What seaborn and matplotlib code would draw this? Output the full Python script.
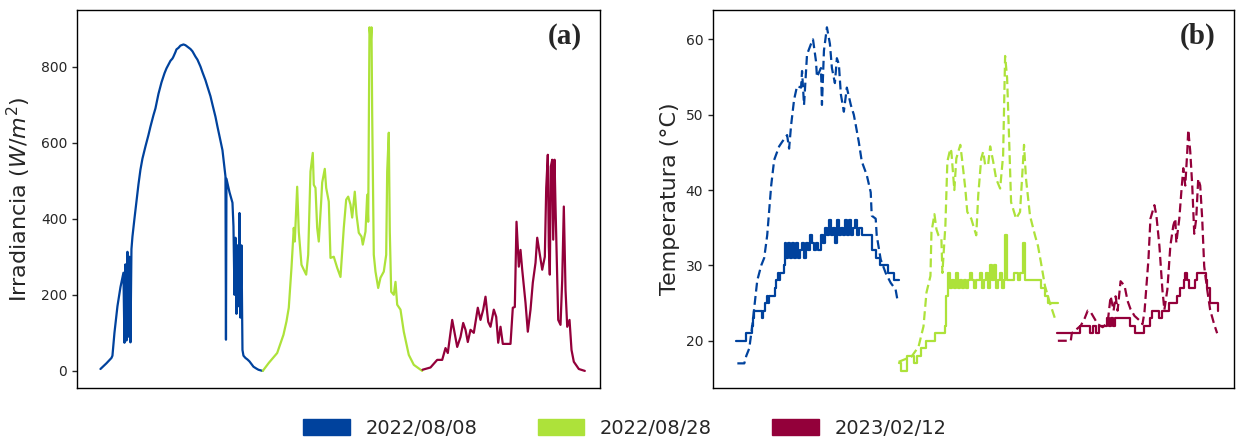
import numpy as np
import pandas as pd
import matplotlib
matplotlib.use("Agg")
import matplotlib.pyplot as plt
from matplotlib.patches import Patch
import seaborn as sns

# ---------------- data ----------------
dias = ["2022/08/08", "2022/08/28", "2023/02/12"]
colores = ["#00429d", "#ade23a", "#93003a"]
ancho_dia = 161  # samples per day on the shared x axis

# Irradiance (W/m2): (position within day, value)
irr_t_1 = [0, 6, 11, 12, 14, 17, 20, 23, 24, 25, 26, 27, 28, 29, 30, 31, 32, 34, 36, 38, 40, 42, 45, 48, 50,
           53, 55, 58, 61, 64, 66, 68, 70, 72, 73, 75, 76, 78, 80, 83, 85, 87, 90, 92, 95, 97, 100, 102, 105,
           107, 110, 112, 115, 117, 120, 122, 125, 125.5, 126, 129, 132, 133, 134, 135, 136, 137, 138, 139,
           140, 141, 142, 143, 145, 147, 149, 151, 153, 156, 158, 162]
irr_v_1 = [5, 20, 34, 40, 100, 170, 220, 258, 74, 280, 80, 313, 90, 300, 75, 320, 353, 400, 445, 490, 529,
           558, 590, 620, 642, 672, 690, 728, 758, 782, 795, 805, 815, 821, 826, 838, 845, 849, 855, 858, 856,
           852, 846, 840, 826, 818, 800, 785, 764, 747, 722, 700, 668, 642, 605, 580, 511, 82, 505, 470, 442,
           380, 200, 350, 150, 330, 170, 415, 140, 330, 55, 40, 34, 30, 25, 18, 11, 6, 3, 0]

irr_t_2 = [1.3, 7.3, 15.7, 22, 25, 27.3, 30, 32.3, 33.3, 35.7, 37.3, 40, 42.3, 44.7, 46.7, 49, 51.3, 52.3,
           54, 55.7, 57.3, 59.7, 60.7, 63.3, 64.7, 67.3, 69, 72.3, 75.7, 79, 82.3, 84.7, 86.7, 89, 90.7,
           93.3, 95, 97.3, 100, 101.3, 104, 105.7, 106.7, 108, 109.3, 110, 110.7, 112.3, 114, 116.7, 119,
           122.3, 124.7, 125.7, 127.3, 128.3, 129.7, 132.3, 134, 135.7, 139, 142.3, 147.3, 152.3, 160.7]
irr_v_2 = [0, 21, 47, 95, 130, 166, 271, 376, 340, 484, 366, 279, 266, 253, 305, 524, 573, 489, 481, 376,
           340, 445, 495, 531, 481, 445, 297, 300, 271, 247, 376, 450, 458, 437, 403, 471, 411, 363, 353,
           332, 366, 463, 392, 903, 866, 903, 674, 305, 261, 218, 245, 261, 305, 524, 626, 366, 208, 200,
           234, 174, 161, 103, 42, 16, 0]

irr_t_3 = [0, 8, 14.7, 19.7, 23, 25.3, 29.7, 34.7, 38, 40.7, 43, 45.3, 48, 51.3, 55.3, 58, 60.7, 63, 65.7,
           68, 71.3, 73.7, 75.7, 78, 80.3, 88, 90.3, 92.3, 94, 96.3, 98, 99.7, 103, 105.3, 108, 110.3, 113,
           114.7, 117, 119.7, 122.3, 123.7, 125.3, 126.3, 127.3, 128.3, 129.7, 130.7, 132, 133, 135.7, 138,
           139.7, 141.3, 143, 144.7, 147, 149, 151.3, 156.3, 162.3]
irr_v_3 = [3, 9, 29, 29, 60, 47, 134, 63, 89, 126, 108, 76, 108, 100, 166, 134, 161, 195, 129, 116, 161,
           142, 74, 116, 71, 71, 166, 168, 392, 274, 318, 266, 179, 103, 161, 232, 284, 350, 311, 266, 300,
           481, 568, 326, 253, 537, 555, 345, 555, 432, 134, 121, 239, 432, 213, 116, 134, 55, 24, 5, 0]

# Ambient temperature (solid, °C)
amb_t_1 = [0, 9, 10, 14, 16, 17, 18, 25, 26, 27, 29, 31, 32, 33, 38, 39, 40, 42, 43, 44, 48, 49, 50, 52, 54,
           56, 58, 60, 62, 64, 66, 68, 70, 72, 74, 76, 78, 80, 82, 85, 87, 89, 91, 93, 95, 97, 99, 101, 103,
           105, 107, 109, 111, 113, 115, 117, 119, 121, 123, 126, 131, 136, 140, 144, 148, 152, 158, 163]
amb_v_1 = [20, 20, 21, 21, 22, 23, 24, 24, 23, 24, 25, 26, 25, 26, 26, 27, 28, 29, 28, 29, 30, 33, 31, 33, 31,
           33, 31, 33, 31, 32, 33, 31, 33, 32, 34, 33, 32, 33, 32, 34, 33, 35, 34, 36, 34, 35, 33, 36, 34,
           35, 34, 36, 34, 36, 34, 35, 36, 34, 35, 34, 34, 32, 31, 30, 30, 29, 28, 28]

amb_t_2 = [2, 4, 7, 10, 17, 20, 25, 30, 35, 39, 45, 49, 50, 52, 54, 56, 58, 60, 62, 64, 66, 68, 70, 72, 74,
           76, 78, 80, 82, 84, 86, 88, 90, 92, 94, 96, 98, 100, 102, 104, 106, 108, 109, 111, 114, 118, 122,
           124, 127, 129, 133, 138, 141, 145, 149, 152, 162]
amb_v_2 = [17, 16, 16, 18, 17, 18, 19, 20, 20, 21, 21, 22, 26, 29, 27, 28, 27, 29, 27, 28, 27, 28, 27, 28, 29,
           28, 27, 28, 28, 29, 27, 28, 29, 27, 30, 28, 30, 27, 28, 29, 27, 28, 34, 28, 28, 29, 28, 29, 33,
           28, 28, 28, 28, 27, 26, 25, 25]

amb_t_3 = [0, 21, 23, 30, 33, 36, 39, 42, 47, 50, 52, 54, 56, 58, 72, 73, 78, 86, 88, 94, 96, 100, 103, 106,
           110, 113, 119, 121, 124, 128, 129, 131, 133, 136, 139, 141, 147, 150, 151, 154, 160, 162]
amb_v_3 = [21, 21, 22, 22, 21, 22, 21, 22, 22, 23, 22, 23, 22, 23, 23, 22, 21, 21, 22, 23, 24, 24, 23, 24,
           24, 25, 25, 26, 27, 28, 29, 28, 27, 27, 28, 29, 29, 28, 27, 25, 25, 24]

# Module temperature (dashed, °C)
mod_t_1 = [1, 8, 10, 13, 16, 21, 25, 28, 31, 35, 38, 43, 46, 51, 53, 55, 58, 61, 65, 66, 68, 71, 75, 77, 80,
           81, 85, 86, 88, 91, 94, 96, 99, 101, 103, 105, 108, 111, 115, 118, 120, 123, 126, 131, 135, 136,
           140, 141, 145, 150, 155, 160, 162]
mod_v_1 = [17, 17, 18, 19, 22, 28, 30, 31, 34, 40.6, 44, 45.8, 46.4, 47.3, 45.5, 48.6, 52, 53.8, 53.6, 55.8,
           51.3, 58, 59.4, 60, 57.1, 55, 56.2, 51.3, 58.5, 61.6, 59.4, 56.2, 54.2, 57.5, 56.7, 52.7, 50.4,
           53.6, 51.3, 50, 48.6, 46.4, 43.8, 42, 39.7, 36.6, 36.2, 34, 30.8, 29, 27.7, 26.8, 25.3]

mod_t_2 = [2, 15, 22, 27, 30, 34, 35, 38, 40, 42, 45, 46, 49, 51, 54, 55, 58, 60, 64, 66, 69, 71, 75, 77, 80,
           82, 85, 87, 89, 92, 94, 97, 100, 104, 107, 109, 111, 113, 115, 120, 124, 126, 128, 130, 134, 139,
           142, 145, 149, 154, 159]
mod_v_2 = [17.2, 17.9, 19.2, 21.9, 26.4, 28.6, 34.4, 36.8, 34.8, 34, 33.5, 29, 35.3, 43.8, 45.5, 45.1, 40,
           44.2, 46, 43.8, 40.2, 37.1, 36.2, 35.3, 34, 39.3, 44.2, 45.1, 43.3, 43.4, 45.8, 43.8, 41.5, 40.2,
           44.6, 57.8, 54.9, 46.9, 38.4, 36.2, 37.1, 41.5, 46, 41.5, 36.6, 34, 32.6, 30.4, 27.3, 25, 23]

mod_t_3 = [1, 14, 15, 24, 28, 31, 34, 38, 41, 46, 51, 54, 57, 59, 61, 64, 68, 71, 74, 78, 83, 86, 88, 92, 94,
           98, 100, 103, 106, 108, 111, 114, 117, 119, 120, 123, 125, 127, 129, 131, 132, 134, 136, 138, 140,
           142, 144, 146, 148, 151, 154, 158, 161]
mod_v_3 = [20, 20, 21, 22, 23, 24, 23.8, 22.9, 22.2, 21.8, 22.4, 25.9, 24, 25.9, 24, 27.9, 27.3, 25.3, 24.2,
           23.3, 22.7, 22.2, 23.8, 30.8, 36.2, 38, 36.6, 32.6, 26.8, 24.1, 26.8, 32.6, 35.3, 36.2, 33, 36.2,
           39.7, 42.9, 40.6, 45.1, 48, 45.1, 40.6, 34.2, 36.2, 41.5, 40.6, 36.2, 29.9, 26.8, 24.1, 22.2, 21]

irr_t = [irr_t_1, irr_t_2, irr_t_3]
irr_v = [irr_v_1, irr_v_2, irr_v_3]
amb_t = [amb_t_1, amb_t_2, amb_t_3]
amb_v = [amb_v_1, amb_v_2, amb_v_3]
mod_t = [mod_t_1, mod_t_2, mod_t_3]
mod_v = [mod_v_1, mod_v_2, mod_v_3]

# ---------------- figure ----------------
sns.set_style("ticks")
plt.rcParams['font.family'] = ['DejaVu Sans']

fig = plt.figure(figsize=(12.41, 4.41), dpi=100)
ax1 = fig.add_axes([0.062, 0.12, 0.4215, 0.857])
ax2 = fig.add_axes([0.5745, 0.12, 0.4195, 0.857])

for k in range(3):
    d = pd.DataFrame({"x": np.array(irr_t[k]) + ancho_dia * k, "y": irr_v[k]})
    sns.lineplot(data=d, x="x", y="y", ax=ax1, color=colores[k], lw=1.6,
                 estimator=None, sort=False)
    da = pd.DataFrame({"x": np.array(amb_t[k]) + ancho_dia * k, "y": amb_v[k]})
    sns.lineplot(data=da, x="x", y="y", ax=ax2, color=colores[k], lw=1.6,
                 estimator=None, sort=False, drawstyle="steps-post")
    dm = pd.DataFrame({"x": np.array(mod_t[k]) + ancho_dia * k, "y": mod_v[k]})
    sns.lineplot(data=dm, x="x", y="y", ax=ax2, color=colores[k], lw=1.6,
                 estimator=None, sort=False, linestyle=(0, (4, 2)))

for ax in (ax1, ax2):
    ax.set_xlim(-23.5, 499.5)
    ax.set_xticks([])
    ax.set_xlabel("")
    ax.tick_params(axis="y", labelsize=10, direction="out", length=3.5, width=1)
    for s in ax.spines.values():
        s.set_visible(True)
        s.set_color("black")
        s.set_linewidth(1.0)

ax1.set_ylabel("Irradiancia ($W/m^2$)", fontsize=16, labelpad=6)
ax2.set_ylabel("Temperatura (°C)", fontsize=16)
ax1.set_yticks([0, 200, 400, 600, 800])
ax2.set_yticks([20, 30, 40, 50, 60])

ax1.text(0.965, 0.93, "(a)", transform=ax1.transAxes, ha="right", va="center",
         fontsize=21, fontweight="bold", family=["Liberation Serif", "DejaVu Serif"])
ax2.text(0.965, 0.93, "(b)", transform=ax2.transAxes, ha="right", va="center",
         fontsize=21, fontweight="bold", family=["Liberation Serif", "DejaVu Serif"])

handles = [Patch(facecolor=c, edgecolor=c, label=l) for c, l in zip(colores, dias)]
fig.legend(handles=handles, loc="center", bbox_to_anchor=(0.5035, 0.029), ncol=3,
           frameon=False, fontsize=14, handlelength=2.4, handleheight=0.85,
           columnspacing=3.1, handletextpad=0.8)

fig.savefig("out.png", dpi=100)
